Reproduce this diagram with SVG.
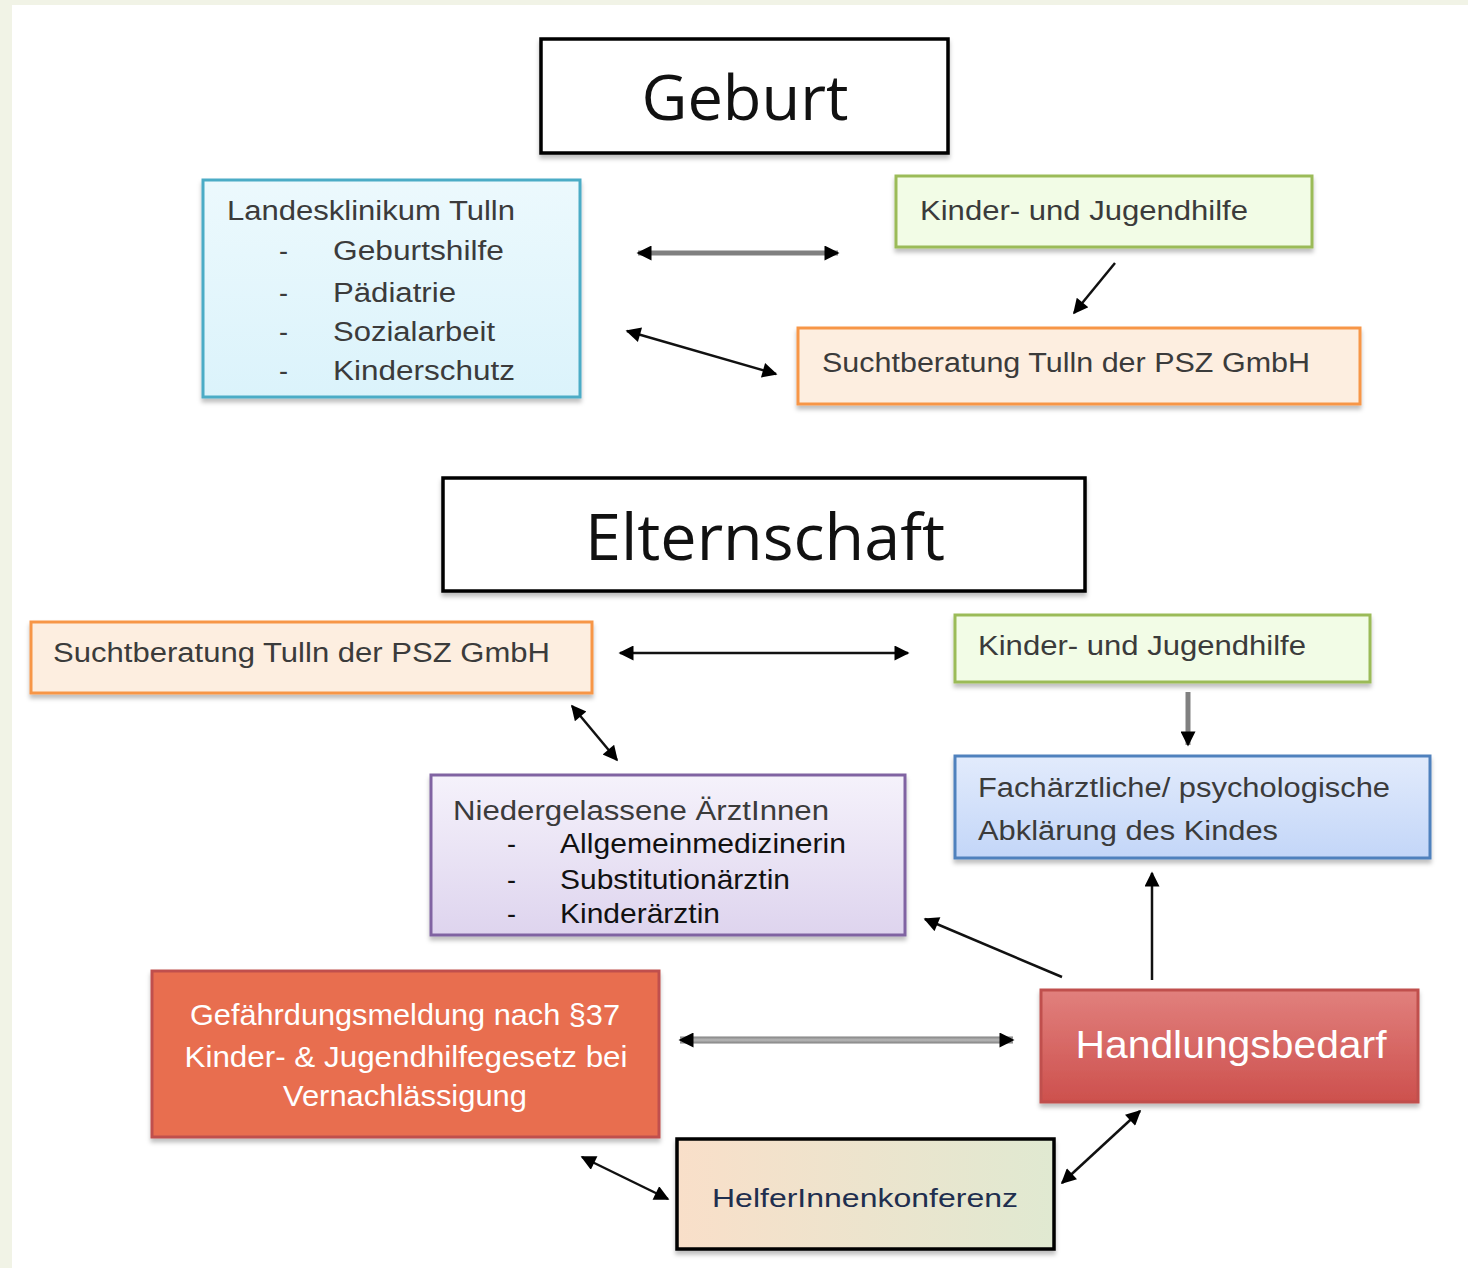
<svg xmlns="http://www.w3.org/2000/svg" width="1468" height="1268" viewBox="0 0 1468 1268">
<defs>
<style>
.t{font-family:"Liberation Sans","DejaVu Sans",sans-serif;fill:#3b3b3b}
.title{font-family:"Open Sans","Liberation Sans",sans-serif;fill:#111}
.w{font-family:"Liberation Sans","DejaVu Sans",sans-serif;fill:#ffffff}
.c{fill:none;stroke:#111;stroke-width:2.5}
.g{fill:none;stroke:#808080;stroke-width:5}
.box{filter:url(#sh)}
</style>
<filter id="sh" x="-5%" y="-5%" width="110%" height="120%">
<feDropShadow dx="0" dy="4" stdDeviation="2" flood-color="#000" flood-opacity="0.25"/>
</filter>
<marker id="ah" viewBox="0 0 10 10" refX="9" refY="5" markerWidth="17" markerHeight="15" markerUnits="userSpaceOnUse" orient="auto-start-reverse">
<path d="M0,0 L10,5 L0,10 Z" fill="#000"/>
</marker>
<linearGradient id="gCyan" x1="0" y1="0" x2="0" y2="1"><stop offset="0" stop-color="#ecf9fd"/><stop offset="1" stop-color="#dbf3fb"/></linearGradient>
<linearGradient id="gBlue" x1="0" y1="0" x2="0" y2="1"><stop offset="0" stop-color="#e2ebfc"/><stop offset="1" stop-color="#c3d6f8"/></linearGradient>
<linearGradient id="gPurp" x1="0" y1="0" x2="0" y2="1"><stop offset="0" stop-color="#f5f2fb"/><stop offset="1" stop-color="#ded4ee"/></linearGradient>
<linearGradient id="gRed" x1="0" y1="0" x2="0" y2="1"><stop offset="0" stop-color="#e1807d"/><stop offset="1" stop-color="#cd504d"/></linearGradient>
<linearGradient id="gHelf" x1="0" y1="0" x2="1" y2="0"><stop offset="0" stop-color="#f9dfc9"/><stop offset="1" stop-color="#e0e9d1"/></linearGradient>
<linearGradient id="gArr" gradientUnits="userSpaceOnUse" x1="0" y1="1036" x2="0" y2="1044"><stop offset="0" stop-color="#777"/><stop offset="0.5" stop-color="#b8b8b8"/><stop offset="1" stop-color="#777"/></linearGradient>
</defs>
<rect x="0" y="0" width="1468" height="1268" fill="#ffffff"/>
<rect x="0" y="0" width="1468" height="5" fill="#f1f3e6"/>
<rect x="0" y="0" width="12" height="1268" fill="#f1f3e6"/>

<g id="geburt">
<rect class="box" x="541" y="39" width="407" height="114" fill="#fff" stroke="#000" stroke-width="3.5"/>
<text class="title" x="745" y="120" font-size="62" text-anchor="middle" textLength="207" lengthAdjust="spacingAndGlyphs">Geburt</text>
</g>

<g id="landesklinikum">
<rect class="box" x="203" y="180" width="377" height="217" fill="url(#gCyan)" stroke="#4bacc6" stroke-width="3"/>
<text class="t" x="227" y="220" font-size="27" textLength="288" lengthAdjust="spacingAndGlyphs">Landesklinikum Tulln</text>
<text class="t" x="279" y="260" font-size="27">-</text>
<text class="t" x="333" y="260" font-size="27" textLength="171" lengthAdjust="spacingAndGlyphs">Geburtshilfe</text>
<text class="t" x="279" y="302" font-size="27">-</text>
<text class="t" x="333" y="302" font-size="27" textLength="123" lengthAdjust="spacingAndGlyphs">Pädiatrie</text>
<text class="t" x="279" y="341" font-size="27">-</text>
<text class="t" x="333" y="341" font-size="27" textLength="162" lengthAdjust="spacingAndGlyphs">Sozialarbeit</text>
<text class="t" x="279" y="380" font-size="27">-</text>
<text class="t" x="333" y="380" font-size="27" textLength="182" lengthAdjust="spacingAndGlyphs">Kinderschutz</text>
</g>

<g id="kjh1">
<rect class="box" x="896" y="176" width="416" height="71" fill="#f2fce6" stroke="#9bbb59" stroke-width="3"/>
<text class="t" x="920" y="220" font-size="27" textLength="328" lengthAdjust="spacingAndGlyphs">Kinder- und Jugendhilfe</text>
</g>

<g id="sucht1">
<rect class="box" x="798" y="328" width="562" height="76" fill="#fdeee0" stroke="#f79646" stroke-width="3"/>
<text class="t" x="822" y="372" font-size="27" textLength="488" lengthAdjust="spacingAndGlyphs">Suchtberatung Tulln der PSZ GmbH</text>
</g>

<g id="elternschaft">
<rect class="box" x="443" y="478" width="642" height="113" fill="#fff" stroke="#000" stroke-width="3.5"/>
<text class="title" x="765" y="560" font-size="64" text-anchor="middle" textLength="360" lengthAdjust="spacingAndGlyphs">Elternschaft</text>
</g>

<g id="sucht2">
<rect class="box" x="31" y="622" width="561" height="71" fill="#fdeee0" stroke="#f79646" stroke-width="3"/>
<text class="t" x="53" y="662" font-size="27" textLength="497" lengthAdjust="spacingAndGlyphs">Suchtberatung Tulln der  PSZ GmbH</text>
</g>

<g id="kjh2">
<rect class="box" x="955" y="615" width="415" height="67" fill="#f2fce6" stroke="#9bbb59" stroke-width="3"/>
<text class="t" x="978" y="655" font-size="27" textLength="328" lengthAdjust="spacingAndGlyphs">Kinder- und Jugendhilfe</text>
</g>

<g id="fachaerztlich">
<rect class="box" x="955" y="756" width="475" height="102" fill="url(#gBlue)" stroke="#4f81bd" stroke-width="3"/>
<text class="t" x="978" y="797" font-size="27" textLength="412" lengthAdjust="spacingAndGlyphs">Fachärztliche/ psychologische</text>
<text class="t" x="978" y="840" font-size="27" textLength="300" lengthAdjust="spacingAndGlyphs">Abklärung des Kindes</text>
</g>

<g id="niedergelassene">
<rect class="box" x="431" y="775" width="474" height="160" fill="url(#gPurp)" stroke="#8064a2" stroke-width="3"/>
<text class="t" x="453" y="820" font-size="27" textLength="376" lengthAdjust="spacingAndGlyphs">Niedergelassene ÄrztInnen</text>
<text class="t" x="507" y="853" font-size="27" style="fill:#111">-</text>
<text class="t" x="560" y="853" font-size="28" style="fill:#111" textLength="286" lengthAdjust="spacingAndGlyphs">Allgemeinmedizinerin</text>
<text class="t" x="507" y="889" font-size="27" style="fill:#111">-</text>
<text class="t" x="560" y="889" font-size="28" style="fill:#111" textLength="230" lengthAdjust="spacingAndGlyphs">Substitutionärztin</text>
<text class="t" x="507" y="923" font-size="27" style="fill:#111">-</text>
<text class="t" x="560" y="923" font-size="28" style="fill:#111" textLength="160" lengthAdjust="spacingAndGlyphs">Kinderärztin</text>
</g>

<g id="gefaehrdung">
<rect class="box" x="152" y="971" width="507" height="166" fill="#e86e4f" stroke="#c0504d" stroke-width="3"/>
<text class="w" x="405" y="1025" font-size="30" text-anchor="middle" textLength="430" lengthAdjust="spacingAndGlyphs">Gefährdungsmeldung nach §37</text>
<text class="w" x="406" y="1067" font-size="30" text-anchor="middle" textLength="443" lengthAdjust="spacingAndGlyphs">Kinder- &amp; Jugendhilfegesetz bei</text>
<text class="w" x="405" y="1106" font-size="30" text-anchor="middle" textLength="244" lengthAdjust="spacingAndGlyphs">Vernachlässigung</text>
</g>

<g id="handlungsbedarf">
<rect class="box" x="1041" y="990" width="377" height="112" fill="url(#gRed)" stroke="#c0504d" stroke-width="3"/>
<text class="w" x="1231" y="1058" font-size="38" text-anchor="middle" textLength="311" lengthAdjust="spacingAndGlyphs">Handlungsbedarf</text>
</g>

<g id="helfer">
<rect class="box" x="677" y="1139" width="377" height="110" fill="url(#gHelf)" stroke="#000" stroke-width="3.5"/>
<text class="t" x="712" y="1207" font-size="26" style="fill:#1f2f4f" textLength="306" lengthAdjust="spacingAndGlyphs">HelferInnenkonferenz</text>
</g>

<g id="connectors">
<line class="g" x1="638" y1="253" x2="838" y2="253" marker-start="url(#ah)" marker-end="url(#ah)"/>
<line class="c" x1="1115" y1="263" x2="1074" y2="313" marker-end="url(#ah)"/>
<line class="c" x1="627" y1="331" x2="776" y2="374" marker-start="url(#ah)" marker-end="url(#ah)"/>
<line class="c" x1="620" y1="653" x2="908" y2="653" marker-start="url(#ah)" marker-end="url(#ah)"/>
<line class="c" x1="572" y1="706" x2="617" y2="760" marker-start="url(#ah)" marker-end="url(#ah)"/>
<line x1="1188" y1="692" x2="1188" y2="745" stroke="#808080" stroke-width="5" marker-end="url(#ah)"/>
<line class="c" x1="1062" y1="977" x2="925" y2="919" marker-end="url(#ah)"/>
<line class="c" x1="1152" y1="980" x2="1152" y2="873" marker-end="url(#ah)"/>
<line x1="680" y1="1040" x2="1013" y2="1040" stroke="url(#gArr)" stroke-width="7" marker-start="url(#ah)" marker-end="url(#ah)"/>
<line class="c" x1="582" y1="1157" x2="668" y2="1199" marker-start="url(#ah)" marker-end="url(#ah)"/>
<line class="c" x1="1140" y1="1111" x2="1062" y2="1183" marker-start="url(#ah)" marker-end="url(#ah)"/>
</g>
</svg>
